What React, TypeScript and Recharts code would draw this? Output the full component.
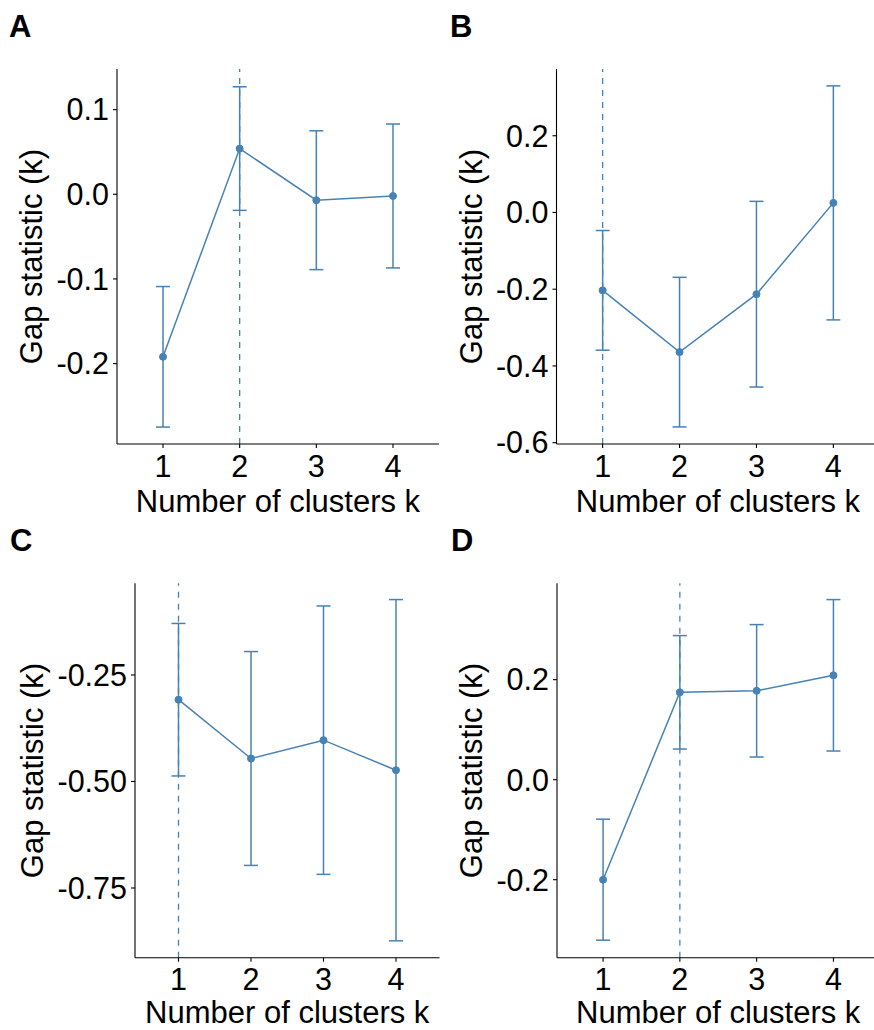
import React from 'react';
import { ComposedChart, Line, XAxis, YAxis, ErrorBar, ReferenceLine } from 'recharts';

// ---- data ----
const clusters = [1, 2, 3, 4];
const xTicks = [1, 2, 3, 4];

const gapA = [-0.192, 0.054, -0.007, -0.002];
const seA = [0.083, 0.073, 0.082, 0.085];
const optimalA = 2;
const yTicksA = [-0.2, -0.1, 0, 0.1];
const yDomainA = [-0.295, 0.148];

const gapB = [-0.203, -0.364, -0.213, 0.025];
const seB = [0.156, 0.195, 0.242, 0.305];
const optimalB = 1;
const yTicksB = [-0.6, -0.4, -0.2, 0, 0.2];
const yDomainB = [-0.6035, 0.374];

const gapC = [-0.308, -0.446, -0.403, -0.4735];
const seC = [0.179, 0.251, 0.315, 0.4005];
const optimalC = 1;
const yTicksC = [-0.75, -0.5, -0.25];
const yDomainC = [-0.9136, -0.0348];

const gapD = [-0.2, 0.1747, 0.1777, 0.2087];
const seD = [0.121, 0.1134, 0.1324, 0.1514];
const optimalD = 2;
const yTicksD = [-0.2, 0, 0.2];
const yDomainD = [-0.356, 0.3927];

const xTitle = 'Number of clusters k';
const yTitle = 'Gap statistic (k)';

// ---- style ----
const COLOR = '#4682B4';
const FONT = '"Liberation Sans", Arial, Helvetica, sans-serif';
const CHART_W = 445;

const build = (gap: number[], se: number[]) =>
  clusters.map((k, i) => ({ k, gap: gap[i], se: se[i] }));

type PanelProps = {
  letter: string;
  left: number;
  top: number;
  height: number;
  gap: number[];
  se: number[];
  optimal: number;
  yTicks: number[];
  yDomain: number[];
  decimals: number;
  yAxisWidth: number;
  marginRight: number;
  marginTop: number;
  xAxisHeight: number;
  titleX: number;
  titleY: number;
  letterX: number;
  letterY: number;
};

function Panel(p: PanelProps) {
  const data = build(p.gap, p.se);
  const XTitle = (props: any) => {
    const vb = props.viewBox || {};
    return (
      <text
        x={vb.x + vb.width / 2}
        y={vb.y + p.titleY}
        textAnchor="middle"
        fontSize={31}
        fontFamily={FONT}
        fill="#000"
      >
        {xTitle}
      </text>
    );
  };
  const YTitle = (props: any) => {
    const vb = props.viewBox || {};
    const cx = p.titleX;
    const cy = vb.y + vb.height / 2;
    return (
      <text
        x={cx}
        y={cy}
        transform={`rotate(-90, ${cx}, ${cy})`}
        textAnchor="middle"
        fontSize={31}
        fontFamily={FONT}
        fill="#000"
      >
        {yTitle}
      </text>
    );
  };
  return (
    <div style={{ position: 'absolute', left: p.left, top: p.top, width: CHART_W, height: p.height }}>
      <ComposedChart
        width={CHART_W}
        height={p.height}
        data={data}
        margin={{ top: p.marginTop, right: p.marginRight, bottom: 0, left: 0 }}
      >
        <XAxis
          dataKey="k"
          type="number"
          domain={[0.4, 4.6]}
          ticks={xTicks}
          allowDataOverflow
          height={p.xAxisHeight}
          axisLine={{ stroke: '#000', strokeWidth: 1.1 }}
          tickLine={{ stroke: '#000', strokeWidth: 1.1 }}
          tickSize={4}
          tickMargin={7}
          tick={{ fontSize: 30.5, fill: '#000', fontFamily: FONT }}
          label={<XTitle />}
        />
        <YAxis
          type="number"
          domain={p.yDomain}
          ticks={p.yTicks}
          allowDataOverflow
          width={p.yAxisWidth}
          axisLine={{ stroke: '#000', strokeWidth: 1.1 }}
          tickLine={{ stroke: '#000', strokeWidth: 1.1 }}
          tickSize={4}
          tickMargin={4}
          tickFormatter={(v: number) => v.toFixed(p.decimals)}
          tick={{ fontSize: 30.5, fill: '#000', fontFamily: FONT }}
          label={<YTitle />}
        />
        <ReferenceLine
          x={p.optimal}
          stroke={COLOR}
          strokeWidth={1.3}
          strokeDasharray="6 6"
        />
        <Line
          dataKey="gap"
          stroke={COLOR}
          strokeWidth={1.5}
          dot={{ r: 3.5, fill: COLOR, stroke: COLOR, strokeWidth: 1 }}
          activeDot={false}
          isAnimationActive={false}
        >
          <ErrorBar dataKey="se" direction="y" width={7} stroke={COLOR} strokeWidth={1.5} />
        </Line>
      </ComposedChart>
      <svg
        width={60}
        height={60}
        style={{ position: 'absolute', left: 0, top: 0, pointerEvents: 'none' }}
      >
        <text x={p.letterX} y={p.letterY} fontSize={31} fontWeight="bold" fontFamily={FONT} fill="#000">
          {p.letter}
        </text>
      </svg>
    </div>
  );
}

export default function App() {
  return (
    <div
      style={{
        position: 'absolute',
        left: 0,
        top: 0,
        width: 874,
        height: 1030,
        overflow: 'hidden',
        background: '#fff',
      }}
    >
      <Panel
        letter="A" left={0} top={0} height={522} gap={gapA} se={seA} optimal={optimalA}
        yTicks={yTicksA} yDomain={yDomainA} decimals={1}
        yAxisWidth={117} marginRight={6} marginTop={69} xAxisHeight={78}
        titleX={42} titleY={67.5} letterX={9} letterY={36.5}
      />
      <Panel
        letter="B" left={437} top={0} height={522} gap={gapB} se={seB} optimal={optimalB}
        yTicks={yTicksB} yDomain={yDomainB} decimals={1}
        yAxisWidth={119.5} marginRight={2.5} marginTop={69} xAxisHeight={78}
        titleX={45} titleY={67.5} letterX={13} letterY={37}
      />
      <Panel
        letter="C" left={0} top={515} height={515} gap={gapC} se={seC} optimal={optimalC}
        yTicks={yTicksC} yDomain={yDomainC} decimals={2}
        yAxisWidth={135} marginRight={5.5} marginTop={68.3} xAxisHeight={72.3}
        titleX={43} titleY={65.3} letterX={10} letterY={36}
      />
      <Panel
        letter="D" left={437} top={515} height={515} gap={gapD} se={seD} optimal={optimalD}
        yTicks={yTicksD} yDomain={yDomainD} decimals={1}
        yAxisWidth={120} marginRight={2.5} marginTop={68.3} xAxisHeight={72.3}
        titleX={45} titleY={65.3} letterX={14} letterY={36}
      />
    </div>
  );
}
